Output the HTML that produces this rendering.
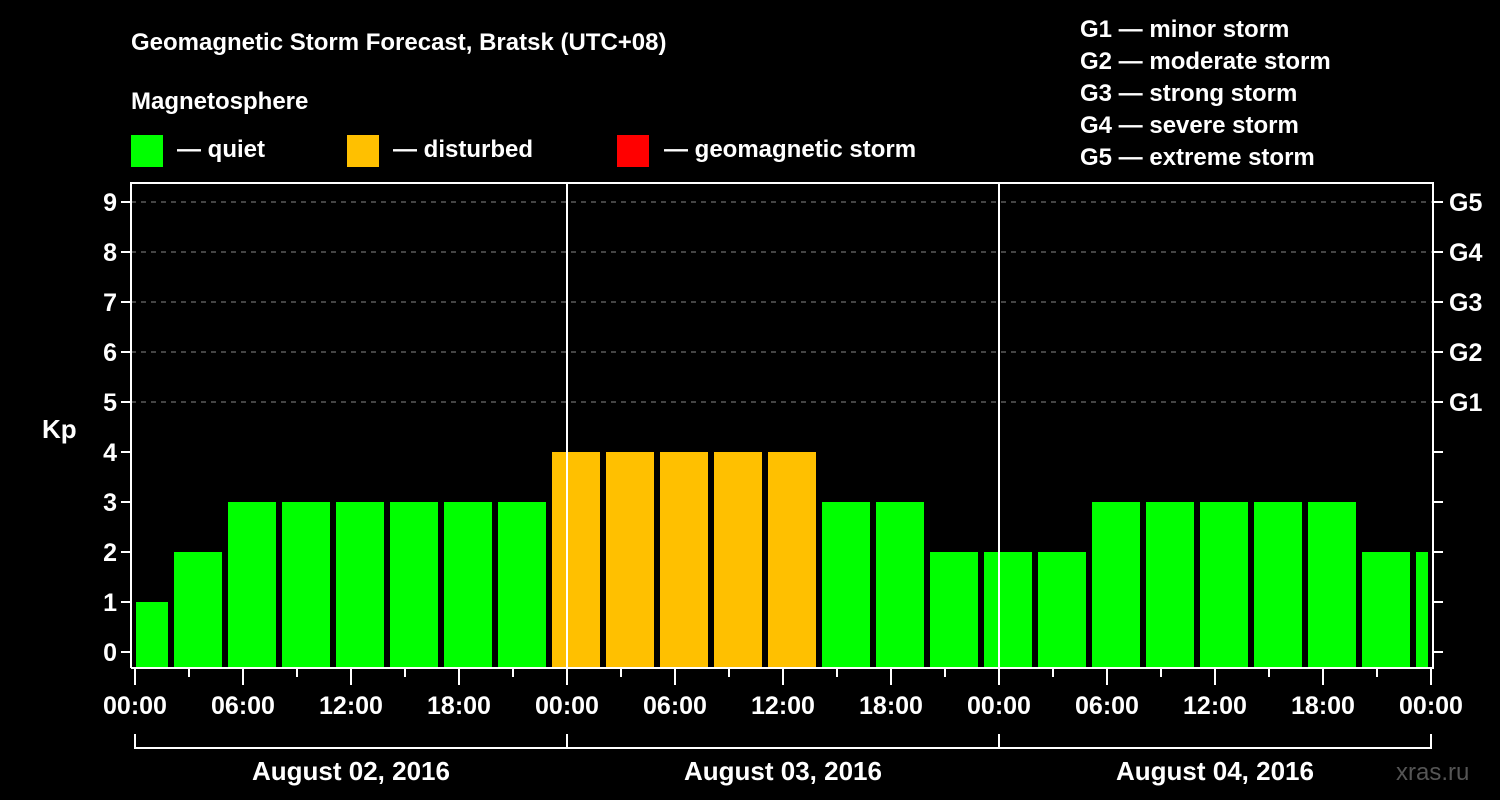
<!DOCTYPE html>
<html><head><meta charset="utf-8"><style>
html,body{margin:0;padding:0;background:#000;}
svg{display:block;font-family:"Liberation Sans",Arial,sans-serif;font-weight:bold;}
</style></head><body>
<svg id="chart" width="1500" height="800" viewBox="0 0 1500 800">
<rect x="0" y="0" width="1500" height="800" fill="#000"/>
<text x="131" y="50" fill="#fff" font-size="24">Geomagnetic Storm Forecast, Bratsk (UTC+08)</text>
<text x="131" y="109" fill="#fff" font-size="24">Magnetosphere</text>
<g><rect x="131" y="135" width="32" height="32" fill="#00ff00"/><text x="177" y="157" fill="#fff" font-size="24">— quiet</text></g>
<g><rect x="347" y="135" width="32" height="32" fill="#ffc000"/><text x="393" y="157" fill="#fff" font-size="24">— disturbed</text></g>
<g><rect x="617" y="135" width="32" height="32" fill="#ff0000"/><text x="664" y="157" fill="#fff" font-size="24">— geomagnetic storm</text></g>
<g fill="#fff" font-size="24">
<text x="1080" y="37">G1 — minor storm</text>
<text x="1080" y="69">G2 — moderate storm</text>
<text x="1080" y="101">G3 — strong storm</text>
<text x="1080" y="133">G4 — severe storm</text>
<text x="1080" y="165">G5 — extreme storm</text>
</g>
<text x="42" y="438" fill="#fff" font-size="26">Kp</text>
<text x="1396" y="780" fill="#555" font-size="24" font-weight="normal">xras.ru</text>
<g id="grid"></g><g id="bars"></g><g id="axes"></g>
</svg>
<script>
const values=[1,2,3,3,3,3,3,3,4,4,4,4,4,3,3,2,2,2,3,3,3,3,3,2,2];
const binStartHours=[0,2,5,8,11,14,17,20,23,26,29,32,35,38,41,44,47,50,53,56,59,62,65,68,71];
const binEndHours=[2,5,8,11,14,17,20,23,26,29,32,35,38,41,44,47,50,53,56,59,62,65,68,71,72];
const yTicks=[0,1,2,3,4,5,6,7,8,9];
const gLabels=["G1","G2","G3","G4","G5"];
const gLevels=[5,6,7,8,9];
const hourLabels=["00:00","06:00","12:00","18:00"];
const dayLabels=["August 02, 2016","August 03, 2016","August 04, 2016"];
const NS="http://www.w3.org/2000/svg";
const X0=135,PX_H=18,Y0=652,PX_K=50,TOP=183,BOT=668,LEFT=131,RIGHT=1433;
const x=h=>X0+h*PX_H, y=v=>Y0-v*PX_K;
function mk(tag,attrs,parent,txt){const e=document.createElementNS(NS,tag);for(const k in attrs)e.setAttribute(k,attrs[k]);if(txt!==undefined)e.textContent=txt;parent.appendChild(e);return e;}
const grid=document.getElementById('grid'),bars=document.getElementById('bars'),axes=document.getElementById('axes');
gLevels.forEach((v,i)=>{
  const l=mk('line',{x1:LEFT,x2:RIGHT,y1:y(v),y2:y(v),stroke:'#888','stroke-dasharray':'5,5','stroke-width':1},grid);
  
  
  const t=mk('text',{x:1449,y:y(v)+9,fill:'#fff','font-size':25},axes,gLabels[i]);
  
  
});
values.forEach((v,i)=>{
  const s=binStartHours[i],e=binEndHours[i];
  const x1=x(s)+(s===0?1:3), x2=x(e)-(e===72?3:3);
  const r=mk('rect',{x:x1,y:y(v),width:x2-x1,height:BOT-y(v),fill:v>=5?'#ff0000':(v>=4?'#ffc000':'#00ff00')},bars);
  
  
});
// frame
const f=mk('path',{d:`M${LEFT} ${BOT}V${TOP}H${RIGHT}V${BOT}H${LEFT}`,fill:'none',stroke:'#fff','stroke-width':2},axes);


[1,2].forEach(d=>{const l=mk('line',{x1:x(d*24),x2:x(d*24),y1:TOP,y2:BOT,stroke:'#fff','stroke-width':2},axes);
 
 });
yTicks.forEach(v=>{
  mk('line',{x1:LEFT-10,x2:LEFT,y1:y(v),y2:y(v),stroke:'#fff','stroke-width':2},axes);
  mk('line',{x1:RIGHT,x2:RIGHT+10,y1:y(v),y2:y(v),stroke:'#fff','stroke-width':2},axes);
  const t=mk('text',{x:LEFT-14,y:y(v)+9,fill:'#fff','font-size':25,'text-anchor':'end'},axes,String(v));
  
  
});
for(let h=0;h<=72;h+=3){
  const major=h%6===0;
  mk('line',{x1:x(h),x2:x(h),y1:BOT,y2:BOT+(major?17:9),stroke:'#fff','stroke-width':2},axes);
  if(major){const t=mk('text',{x:x(h),y:714,fill:'#fff','font-size':25,'text-anchor':'middle'},axes,hourLabels[(h/6)%4]);
    
    }
}
mk('line',{x1:x(0),x2:x(72),y1:748,y2:748,stroke:'#fff','stroke-width':2},axes);
for(let d=0;d<=3;d++)mk('line',{x1:x(d*24),x2:x(d*24),y1:734,y2:749,stroke:'#fff','stroke-width':2},axes);
dayLabels.forEach((s,d)=>{const t=mk('text',{x:x(d*24+12),y:780,fill:'#fff','font-size':26,'text-anchor':'middle'},axes,s);
  
  });
</script>
</body></html>
